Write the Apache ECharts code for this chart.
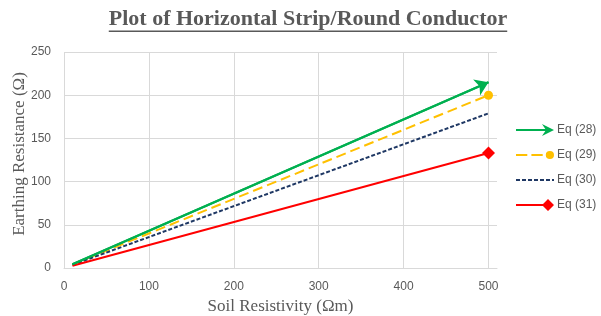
<!DOCTYPE html>
<html>
<head>
<meta charset="utf-8">
<script src="https://cdn.jsdelivr.net/npm/echarts@6/dist/echarts.min.js"></script>
<style>
html,body{margin:0;padding:0;background:#fff;}
#chart{width:601px;height:316px;}
</style>
</head>
<body>
<div id="chart"></div>
<script>
const titleText = 'Plot of Horizontal Strip/Round Conductor';
const xName = 'Soil Resistivity (\u03A9m)';
const yName = 'Earthing Resistance (\u03A9)';
const seriesNames = ['Eq (28)', 'Eq (29)', 'Eq (30)', 'Eq (31)'];
const rho = [10, 500];
const eq28 = [4.3, 215];
const eq29 = [4, 200];
const eq30 = [3.6, 179];
const eq31 = [2.7, 133];
const xTicks = [0, 100, 200, 300, 400, 500];
const yTicks = [0, 50, 100, 150, 200, 250];

const colors = ['#00B050', '#FFC000', '#1F3864', '#FF0000'];
const gray = '#595959';

const icons = [
  'path://M0 5h30v2h-30z M26 0L38 6L26 12L30 6z',
  'path://M0 5h11v2h-11z M15 5h11v2h-11z M29 6a4 4 0 1 0 8 0a4 4 0 1 0 -8 0z',
  'path://M0 5h4v2h-4z M6 5h4v2h-4z M12 5h4v2h-4z M18 5h4v2h-4z M24 5h4v2h-4z M30 5h4v2h-4z M36 5h2v2h-2z',
  'path://M0 5h28v2h-28z M32 0L38 6L32 12L26 6z'
];

function pts(ys, endSymbol, endSize) {
  return ys.map((y, i) => {
    if (i === ys.length - 1 && endSymbol) {
      return { value: [rho[i], y], symbol: endSymbol, symbolSize: endSize };
    }
    return { value: [rho[i], y], symbol: 'none' };
  });
}

const chart = echarts.init(document.getElementById('chart'), null, { renderer: 'canvas' });

const titleFontSize = 22;
const titleFamily = '"Liberation Serif", serif';
const titleCx = 308;
const titleTop = 8;
const measure = document.createElement('canvas').getContext('2d');
measure.font = 'bold ' + titleFontSize + 'px ' + titleFamily;
const tw = measure.measureText(titleText).width;

const option = {
  animation: false,
  backgroundColor: '#fff',
  graphic: [
    {
      type: 'text',
      x: titleCx, y: titleTop,
      style: {
        text: titleText, align: 'center', verticalAlign: 'top',
        fontSize: titleFontSize, fontWeight: 'bold', fontFamily: titleFamily, fill: gray
      },
      silent: true
    },
    {
      type: 'rect',
      shape: { x: titleCx - tw / 2, y: 30.5, width: tw, height: 1.5 },
      style: { fill: gray },
      silent: true
    }
  ],
  grid: { left: 64, right: 104, top: 52, bottom: 48, outerBoundsMode: 'none', containLabel: false },
  legend: {
    orient: 'vertical',
    left: 516,
    top: 124,
    padding: 0,
    itemWidth: 38,
    itemHeight: 14,
    itemGap: 13,
    textStyle: { fontFamily: '"Liberation Sans", sans-serif', fontSize: 12, color: gray, padding: [0, 0, 0, -2] },
    data: seriesNames.map((n, i) => ({ name: n, icon: icons[i], itemStyle: { color: colors[i], borderWidth: 0 } }))
  },
  xAxis: {
    type: 'value',
    min: 0, max: 510, interval: 100,
    name: xName, nameLocation: 'middle', nameGap: 30, nameMoveOverlap: false,
    nameTextStyle: { fontFamily: '"Liberation Serif", serif', fontSize: 17, color: gray },
    axisLine: { show: true, lineStyle: { color: '#D9D9D9', width: 1 } },
    axisTick: { show: false },
    axisLabel: { showMaxLabel: false, color: gray, fontFamily: '"Liberation Sans", sans-serif', fontSize: 12, margin: 13,
      formatter: v => (xTicks.indexOf(v) >= 0 ? String(v) : '') },
    splitLine: { show: true, showMaxLine: false, lineStyle: { color: '#D9D9D9', width: 1 } }
  },
  yAxis: {
    type: 'value',
    min: 0, max: 250, interval: 50,
    name: yName, nameLocation: 'middle', nameGap: 36, nameMoveOverlap: false,
    nameTextStyle: { fontFamily: '"Liberation Serif", serif', fontSize: 17, color: gray, padding: [0, 0, 0, 12] },
    axisLine: { show: false },
    axisTick: { show: false },
    axisLabel: { color: gray, fontFamily: '"Liberation Sans", sans-serif', fontSize: 12, margin: 13,
      formatter: v => (yTicks.indexOf(v) >= 0 ? String(v) : '') },
    splitLine: { show: true, lineStyle: { color: '#D9D9D9', width: 1 } }
  },
  series: [
    {
      name: seriesNames[0], type: 'line', data: pts(eq28, null), symbol: 'none',
      itemStyle: { color: colors[0] },
      lineStyle: { color: colors[0], width: 2 },
      markLine: {
        silent: true, symbol: ['none', 'arrow'], symbolSize: 13,
        label: { show: false },
        lineStyle: { color: colors[0], width: 2, type: 'solid' },
        data: [[{ coord: [rho[0], eq28[0]] }, { coord: [rho[1], eq28[1]] }]]
      },
      z: 4
    },
    {
      name: seriesNames[1], type: 'line', data: pts(eq29, 'circle', 9),
      itemStyle: { color: colors[1] },
      lineStyle: { color: colors[1], width: 2, type: [10, 5] },
      z: 3
    },
    {
      name: seriesNames[2], type: 'line', data: pts(eq30, null), symbol: 'none',
      itemStyle: { color: colors[2] },
      lineStyle: { color: colors[2], width: 2, type: [4, 2] },
      z: 3
    },
    {
      name: seriesNames[3], type: 'line', data: pts(eq31, 'diamond', 13),
      itemStyle: { color: colors[3] },
      lineStyle: { color: colors[3], width: 2 },
      z: 3
    }
  ]
};
chart.setOption(option);
</script>
</body>
</html>
